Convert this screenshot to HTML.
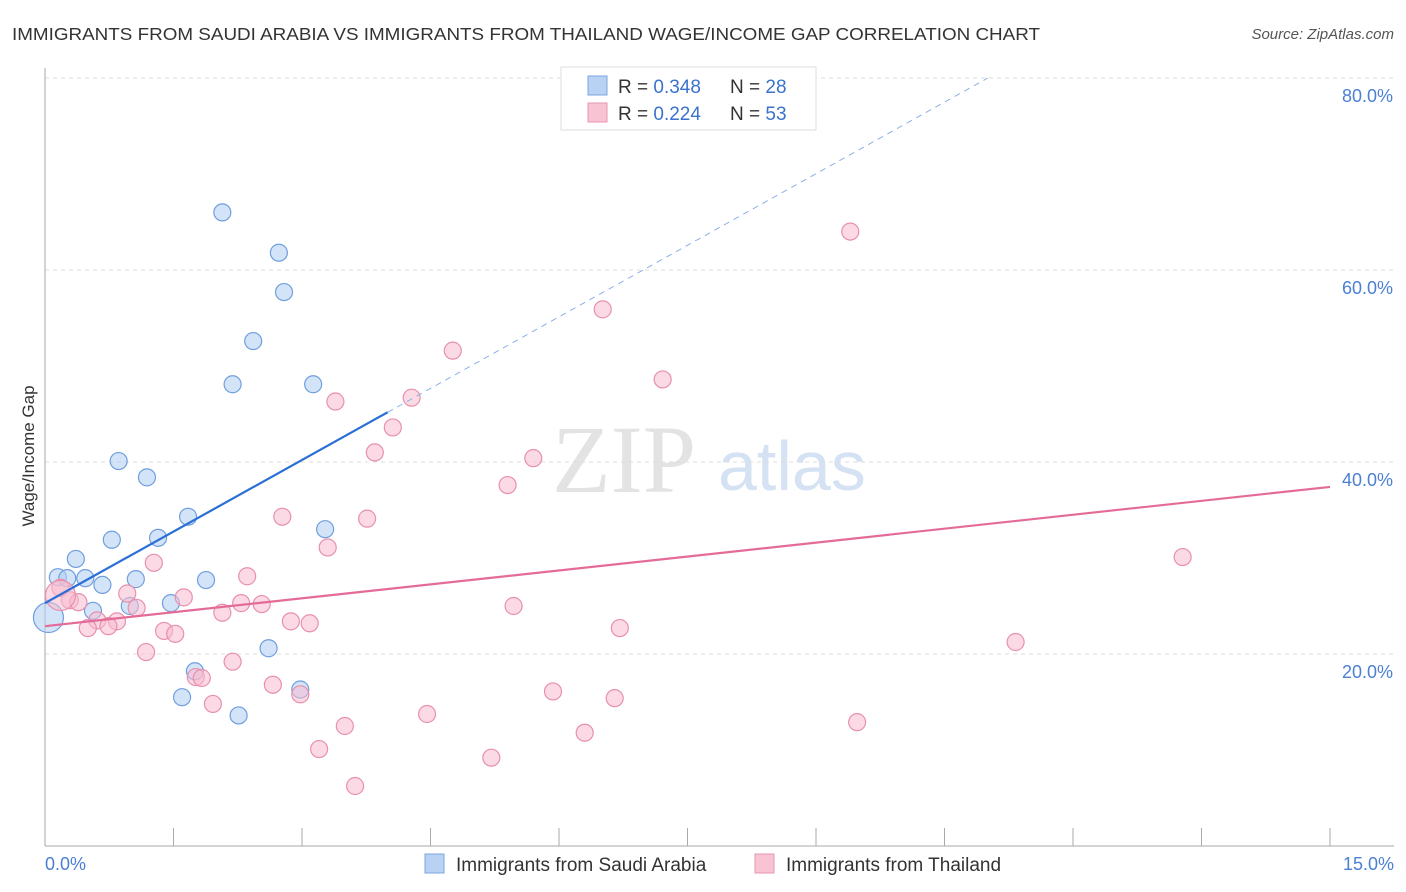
<!DOCTYPE html>
<html><head><meta charset="utf-8">
<style>
body{margin:0;background:#fff;font-family:"Liberation Sans",sans-serif;}
svg{display:block}
</style></head>
<body>
<svg id="chart" width="1406" height="892" viewBox="0 0 1406 892">
<text x="12" y="40" font-size="17.5" fill="#333" textLength="1028" lengthAdjust="spacingAndGlyphs">IMMIGRANTS FROM SAUDI ARABIA VS IMMIGRANTS FROM THAILAND WAGE/INCOME GAP CORRELATION CHART</text>
<text x="1394" y="39" font-size="15" fill="#555" text-anchor="end" font-style="italic">Source: ZipAtlas.com</text>
<g>
<text x="552" y="492" font-size="96" fill="#d8d8d8" font-family="Liberation Serif,serif" opacity="0.7">ZIP</text>
<text x="718" y="490" font-size="70" fill="#c4d6ee" opacity="0.7">atlas</text>
</g>
<g id="grid"></g>
<g id="axes"></g>
<g id="marks"></g>
<text transform="translate(34,456) rotate(-90)" font-size="17" fill="#333" text-anchor="middle">Wage/Income Gap</text>
<g>
<rect x="561" y="67" width="255" height="63" fill="#fff" stroke="#ddd"/>
<rect x="588" y="76" width="19" height="19" fill="#b8d2f4" stroke="#7aa6e0"/>
<rect x="588" y="103" width="19" height="19" fill="#f8c4d4" stroke="#e896b0"/>
<text x="618" y="93" font-size="19" fill="#333">R = <tspan fill="#3a72cc">0.348</tspan></text>
<text x="730" y="93" font-size="19" fill="#333">N = <tspan fill="#3a72cc">28</tspan></text>
<text x="618" y="120" font-size="19" fill="#333">R = <tspan fill="#3a72cc">0.224</tspan></text>
<text x="730" y="120" font-size="19" fill="#333">N = <tspan fill="#3a72cc">53</tspan></text>
</g>
<g>
<rect x="425" y="854" width="19" height="19" fill="#b8d2f4" stroke="#7aa6e0"/>
<text x="456" y="871" font-size="19" fill="#333">Immigrants from Saudi Arabia</text>
<rect x="755" y="854" width="19" height="19" fill="#f8c4d4" stroke="#e896b0"/>
<text x="786" y="871" font-size="19" fill="#333">Immigrants from Thailand</text>
</g>
</svg>
<script>
const yTicks=[20,40,60,80];
const yTickLabels=["20.0%","40.0%","60.0%","80.0%"];
const xTickLabels=["0.0%","15.0%"];
const blueX=[2.07,2.73,2.79,2.43,2.19,3.13,0.86,1.19,1.67,3.27,0.78,1.32,0.36,0.15,0.26,0.47,0.67,1.06,1.88,0.99,1.47,0.56,0.04,2.61,1.75,1.60,2.98,2.26];
const blueY=[66.0,61.8,57.7,52.6,48.1,48.1,40.1,38.4,34.3,33.0,31.9,32.1,29.9,28.0,27.9,27.9,27.2,27.8,27.7,25.0,25.3,24.5,23.8,20.6,18.2,15.5,16.3,13.6];
const pinkX=[9.40,6.51,4.76,7.21,4.28,3.39,4.06,3.85,5.70,5.40,2.77,3.76,3.30,1.27,2.36,0.18,0.96,1.62,2.29,2.53,0.29,0.39,1.07,5.47,2.07,0.61,0.84,0.74,2.87,3.09,0.50,1.39,1.52,6.71,1.18,2.19,1.76,1.83,2.66,2.98,5.93,6.65,1.96,4.46,3.50,9.48,6.30,3.20,5.21,3.62,13.28,11.33,0.18];
const pinkY=[64.0,55.9,51.6,48.6,46.7,46.3,43.6,41.0,40.4,37.6,34.3,34.1,31.1,29.5,28.1,26.9,26.3,25.9,25.3,25.2,25.6,25.4,24.8,25.0,24.3,23.5,23.4,22.9,23.4,23.2,22.7,22.4,22.1,22.7,20.2,19.2,17.6,17.5,16.8,15.8,16.1,15.4,14.8,13.75,12.5,12.9,11.8,10.1,9.2,6.25,30.1,21.25,26.1];
const blueTrend=[25.3,4.97];
const pinkTrend=[22.9,0.967];
const NS="http://www.w3.org/2000/svg";
const X=v=>45+v*(1285/15);
const Y=v=>846-v*9.6;
function mk(tag,attrs,parent){const e=document.createElementNS(NS,tag);for(const k in attrs)e.setAttribute(k,attrs[k]);parent.appendChild(e);return e;}
const grid=document.getElementById('grid'),axes=document.getElementById('axes'),marks=document.getElementById('marks');
yTicks.forEach((t,i)=>{
 const l=mk('line',{x1:45,x2:1394,y1:Y(t),y2:Y(t),stroke:'#ddd','stroke-dasharray':'4,4'},grid);
 
 const tx=mk('text',{x:1393,y:Y(t)+24,'font-size':18,fill:'#4a7fd4','text-anchor':'end'},axes);
 tx.textContent=yTickLabels[i];
 
});
const ax=mk('line',{x1:45,x2:45,y1:68,y2:846,stroke:'#aaa'},axes);

const bx=mk('line',{x1:45,x2:1394,y1:846,y2:846,stroke:'#aaa'},axes);

for(let i=0;i<=10;i++){const t=mk('line',{x1:X(i*1.5),x2:X(i*1.5),y1:828,y2:846,stroke:'#aaa'},axes);
 }
[[0,'start',45],[15,'end',1394]].forEach((d,i)=>{const t=mk('text',{x:d[2],y:870,'font-size':18,fill:'#4a7fd4','text-anchor':d[1]},axes);t.textContent=xTickLabels[i];
 });
function dots(xs,ys,fill,stroke,name,bigIdx){xs.forEach((x,i)=>{const c=mk('circle',{cx:X(x),cy:Y(ys[i]),r:i===bigIdx?15:8.5,fill:fill,'fill-opacity':0.55,stroke:stroke,'stroke-width':1.2},marks);
 });}
dots(blueX,blueY,'#b0cdf2','#6f9fde','saudi-arabia-point',22);
dots(pinkX,pinkY,'#f8bccf','#e890ad','thailand-point',52);
const bEnd=4.0,bDash=(80-blueTrend[0])/blueTrend[1];
const l1=mk('line',{x1:X(0),y1:Y(blueTrend[0]),x2:X(bEnd),y2:Y(blueTrend[0]+blueTrend[1]*bEnd),stroke:'#2a6fd6','stroke-width':2.2},marks);

const l2=mk('line',{x1:X(bEnd),y1:Y(blueTrend[0]+blueTrend[1]*bEnd),x2:X(bDash),y2:Y(80),stroke:'#8ab0e4','stroke-width':1,'stroke-dasharray':'6,5'},marks);

const l3=mk('line',{x1:X(0),y1:Y(pinkTrend[0]),x2:X(15),y2:Y(pinkTrend[0]+pinkTrend[1]*15),stroke:'#e46b98','stroke-width':2.2},marks);

</script>
</body></html>
